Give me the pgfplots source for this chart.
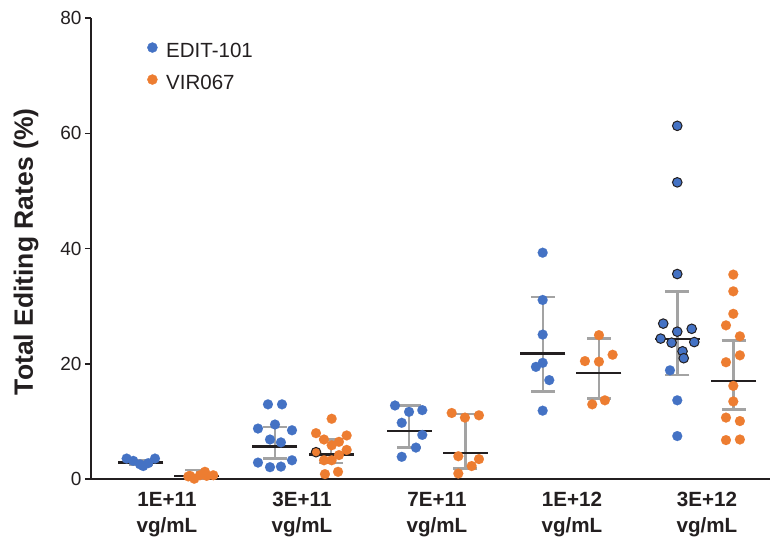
\documentclass[border=0pt]{standalone}
\usepackage{pgfplots}
\pgfplotsset{compat=1.18}
\usepackage{fontspec}
\setmainfont{Liberation Sans}
\definecolor{blueC}{HTML}{4472C4}
\definecolor{orangeC}{HTML}{ED7D31}
\definecolor{grayC}{HTML}{A3A3A3}
\definecolor{darkC}{HTML}{231F20}

\pgfplotstableread{
x y
0.701 3.6
0.750 3.2
0.800 2.6
0.824 2.3
0.861 2.8
0.911 3.6
1.748 13.0
1.852 13.0
1.674 8.8
1.800 9.5
1.926 8.5
1.763 6.9
1.844 6.4
1.674 2.9
1.763 2.1
1.844 2.2
1.926 3.3
2.689 12.8
2.793 11.7
2.891 12.0
2.739 9.8
2.891 7.7
2.844 5.5
2.739 3.9
3.783 39.3
3.783 31.1
3.783 25.1
3.783 20.2
3.733 19.5
3.832 17.2
3.783 11.9
4.726 18.9
4.780 13.7
4.780 7.5
}\blueplain

\pgfplotstableread{
x y
4.780 61.3
4.780 51.5
4.780 35.6
4.676 27.0
4.887 26.1
4.780 25.6
4.657 24.4
4.738 23.7
4.906 23.8
4.819 22.2
4.828 21.0
}\blueedged

\pgfplotstableread{
x y
1.158 0.5
1.170 0.6
1.202 0.1
1.244 0.7
1.281 1.3
1.294 0.6
1.343 0.7
2.220 10.5
2.104 8.0
2.331 7.6
2.163 6.9
2.274 6.5
2.220 5.9
2.331 5.1
2.274 4.2
2.163 3.3
2.220 3.3
2.170 0.9
2.267 1.3
3.109 11.5
3.207 10.7
3.311 11.1
3.158 4.0
3.311 3.5
3.257 2.3
3.158 1.0
4.200 25.0
4.096 20.5
4.200 20.4
4.301 21.6
4.150 13.0
4.244 13.7
5.195 35.5
5.195 32.6
5.195 28.7
5.141 26.7
5.244 24.8
5.244 21.5
5.141 20.3
5.195 16.2
5.195 13.5
5.141 10.7
5.244 10.1
5.141 6.8
5.244 6.9
}\orangeplain

\pgfplotstableread{
x y
2.104 4.7
}\orangeedged

\pgfplotstableread{
x m ep em
0.807 2.9 0.4 0.4
1.222 0.6 1.0 0.5
1.800 5.7 3.4 2.1
2.215 4.3 2.6 1.5
2.793 8.4 4.4 2.9
3.211 4.6 6.7 2.7
3.785 21.8 9.8 6.6
4.200 18.5 5.9 4.5
4.781 24.4 8.2 6.3
5.198 17.1 7.0 5.0
}\summary

\begin{document}
\begin{tikzpicture}
\begin{axis}[
  scale only axis, width=679pt, height=461.3pt,
  xmin=0.437, xmax=5.467, ymin=0, ymax=80,
  axis x line=bottom, axis y line=left,
  axis line style={-, line width=2pt, darkC},
  clip=false,
  ytick={0,20,40,60,80},
  tick align=outside, major tick length=6pt,
  ytick style={line width=1.6pt, darkC},
  xtick={1,2,3,4,5},
  xtick style={draw=none},
  xticklabels={{1E+11\\vg/mL},{3E+11\\vg/mL},{7E+11\\vg/mL},{1E+12\\vg/mL},{3E+12\\vg/mL}},
  xticklabel style={align=center, yshift=-3pt, font=\bfseries\fontsize{20.6}{26}\selectfont, text=darkC},
  yticklabel style={font=\fontsize{19}{22}\selectfont, text=darkC},
  /pgf/number format/assume math mode=true,
  ylabel={Total Editing Rates (\%)},
  ylabel style={at={(axis description cs:-0.0957,0.493)}, anchor=center, font=\bfseries\fontsize{26.5}{30}\selectfont, text=darkC},
  legend style={at={(axis description cs:0.0825,0.9483)}, anchor=north west, draw=none, fill=none, inner sep=0pt,
    font=\fontsize{20.5}{24}\selectfont, row sep=17pt,
    nodes={inner sep=0pt, text height=15pt, text depth=0pt, text=darkC},
    /tikz/every odd column/.append style={column sep=8.6pt}},
  legend cell align=left,
]
\addlegendimage{legend image code/.code={\fill[blueC] (5pt,2pt) circle (5pt);}}
\addlegendentry{EDIT-101}
\addlegendimage{legend image code/.code={\fill[orangeC] (5pt,2pt) circle (5pt);}}
\addlegendentry{VIR067}

\addplot[only marks, mark=-, mark size=22.5pt, mark options={line width=2.2pt, darkC}, forget plot,
  error bars/.cd, y dir=both, y explicit,
  error bar style={line width=2.5pt, grayC},
  error mark options={rotate=90, line width=2.5pt, grayC, mark size=12pt}]
  table[x=x, y=m, y error plus=ep, y error minus=em] {\summary};

\addplot[only marks, mark=*, mark size=5pt, mark options={draw=blueC, fill=blueC, line width=0.1pt}, forget plot] table[x=x,y=y] {\blueplain};
\addplot[only marks, mark=*, mark size=4.8pt, mark options={draw=darkC, fill=blueC, line width=1pt}, forget plot] table[x=x,y=y] {\blueedged};
\addplot[only marks, mark=*, mark size=5pt, mark options={draw=orangeC, fill=orangeC, line width=0.1pt}, forget plot] table[x=x,y=y] {\orangeplain};
\addplot[only marks, mark=*, mark size=4.8pt, mark options={draw=darkC, fill=orangeC, line width=1pt}, forget plot] table[x=x,y=y] {\orangeedged};
\end{axis}
\pgfresetboundingbox
\useasboundingbox (-91pt,-63.7pt) rectangle (683pt,479.3pt);
\end{tikzpicture}
\end{document}
